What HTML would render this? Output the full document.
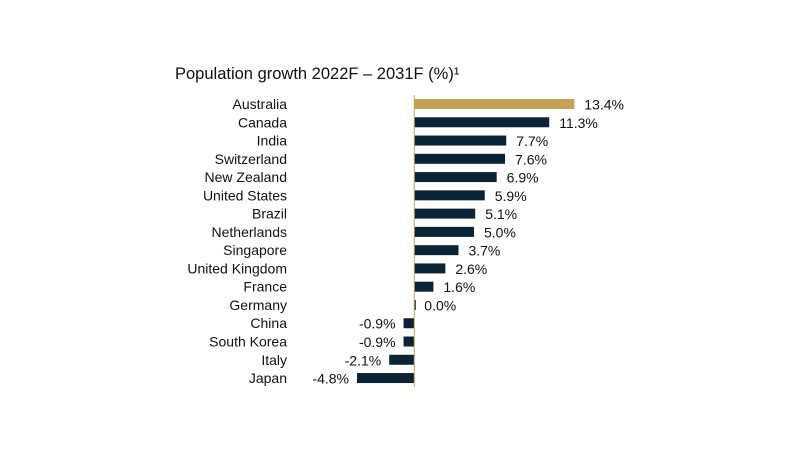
<!DOCTYPE html>
<html><head><meta charset="utf-8"><style>
body{margin:0;background:#fff;}
svg{display:block;font-family:"Liberation Sans",sans-serif;}
</style></head><body>
<svg width="795" height="464">
<text x="175" y="79" font-size="16.5" fill="#111">Population growth 2022F – 2031F (%)¹</text>
<g id="bars"></g>
</svg>
<script>
const countries=["Australia","Canada","India","Switzerland","New Zealand","United States","Brazil","Netherlands","Singapore","United Kingdom","France","Germany","China","South Korea","Italy","Japan"];
const growth=[13.4,11.3,7.7,7.6,6.9,5.9,5.1,5.0,3.7,2.6,1.6,0.0,-0.9,-0.9,-2.1,-4.8];
const valueLabels=["13.4%","11.3%","7.7%","7.6%","6.9%","5.9%","5.1%","5.0%","3.7%","2.6%","1.6%","0.0%","-0.9%","-0.9%","-2.1%","-4.8%"];
const x0=414.3, pxPer=11.94, yTop=104, step=18.27, bh=10;
const X=v=>x0+v*pxPer, Y=i=>yTop+i*step;
const g=document.getElementById('bars'), ns="http://www.w3.org/2000/svg";
function mk(t,a){const e=document.createElementNS(ns,t);for(const k in a)e.setAttribute(k,a[k]);g.appendChild(e);return e;}
countries.forEach((c,i)=>{
  const v=growth[i], y=Y(i);
  let x1=Math.min(X(0),X(v)), w=Math.abs(X(v)-X(0));
  if(v===0){w=1.5;}
  const r=mk('rect',{x:x1,y:y-bh/2,width:w,height:bh,fill:i===0?'#c6a057':'#0b2435'});
  
  
  const l=mk('text',{x:287,y:y+5,'font-size':14,'text-anchor':'end',fill:'#111'});
  l.textContent=c;
  
  
  const vl=mk('text',{x:v>=0?X(v)+10:X(v)-8,y:y+5.5,'font-size':14,'text-anchor':v>=0?'start':'end',fill:'#111'});
  vl.textContent=valueLabels[i];
  
  
});
const ax=mk('line',{x1:x0,x2:x0,y1:95,y2:387,stroke:'#c6a057','stroke-width':1});


</script>
</body></html>
